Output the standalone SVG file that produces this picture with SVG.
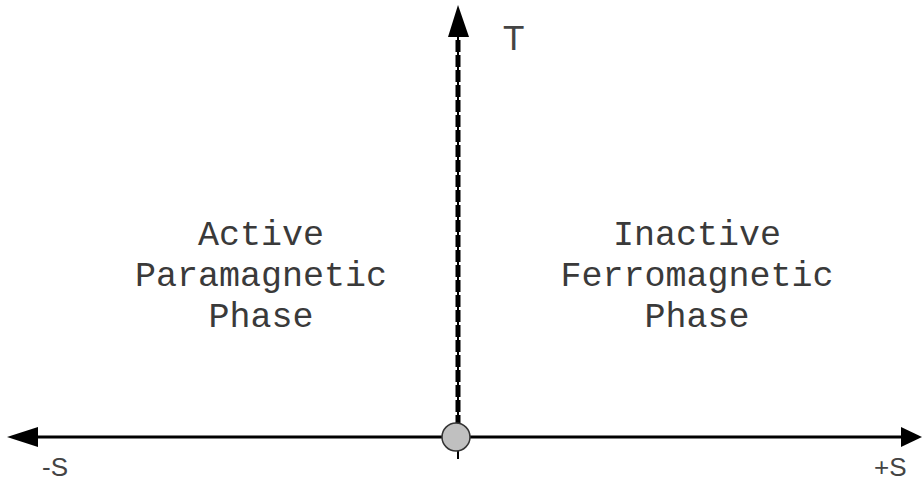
<svg xmlns="http://www.w3.org/2000/svg" width="922" height="481" viewBox="0 0 922 481">
<defs>
<style>
.axis{stroke:#000;stroke-width:3;fill:none}
.mono{font-family:"Liberation Mono","Courier New",monospace;font-size:35px;fill:#3a3a3a;text-anchor:middle}
.sans{font-family:"Liberation Sans",Arial,sans-serif;fill:#444}
</style>
</defs>
<rect width="922" height="481" fill="#fff"/>
<g id="connectors">
<line class="axis" x1="36" y1="437" x2="904" y2="437"/>
<polygon points="7,437 38,427 38,447" fill="#000"/>
<polygon points="922,437 901,427 901,447" fill="#000"/>
<line x1="458" y1="36" x2="458" y2="459" stroke="#000" stroke-width="2"/>
<line x1="458" y1="40" x2="458" y2="424" stroke="#000" stroke-width="5" stroke-dasharray="12 3"/>
<polygon points="458,5 448,37 469,37" fill="#000"/>
</g>
<g id="critical-point">
<circle cx="456" cy="437" r="14" fill="#c0c0c0" stroke="#333" stroke-width="1.5"/>
</g>
<g id="label-T"><text class="sans" x="503" y="50" font-size="35">T</text></g>
<g id="label-minusS"><text class="sans" x="42" y="476" font-size="26">-S</text></g>
<g id="label-plusS"><text class="sans" x="874" y="476" font-size="26">+S</text></g>
<g id="active">
<text class="mono" x="261" y="245">Active</text>
<text class="mono" x="261" y="286">Paramagnetic</text>
<text class="mono" x="261" y="327">Phase</text>
</g>
<g id="inactive">
<text class="mono" x="697" y="245">Inactive</text>
<text class="mono" x="697" y="286">Ferromagnetic</text>
<text class="mono" x="697" y="327">Phase</text>
</g>
</svg>
